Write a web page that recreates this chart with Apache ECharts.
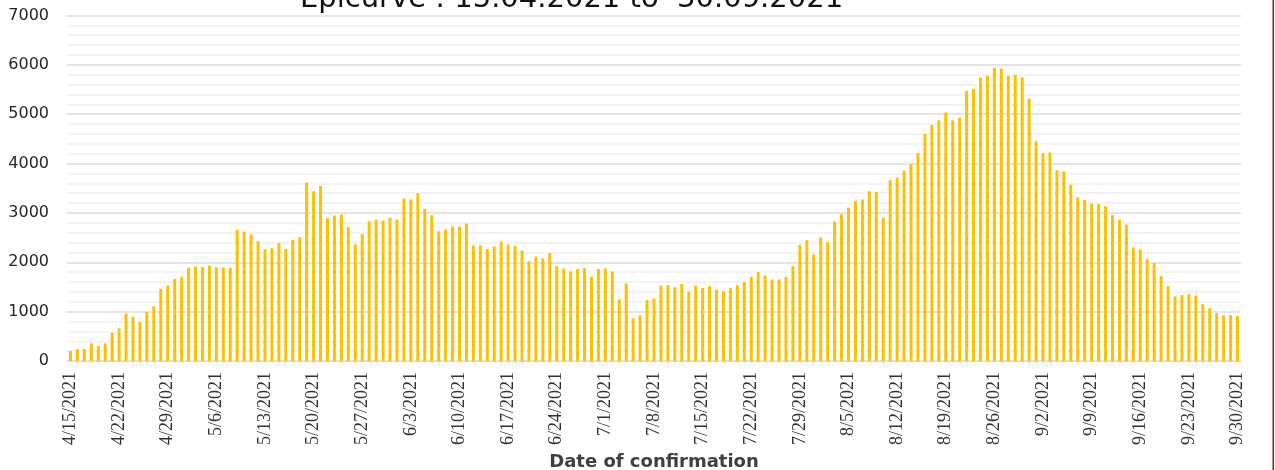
<!DOCTYPE html>
<html>
<head>
<meta charset="utf-8">
<title>Epicurve</title>
<script src="https://cdn.jsdelivr.net/npm/echarts@6/dist/echarts.min.js"></script>
<style>
    html,body{margin:0;padding:0;background:#fff;}
    #chart{width:1275px;height:470px;}
</style>
</head>
<body>
<div id="chart"></div>
<script>
// daily confirmed cases, 15.04.2021 .. 30.09.2021
var startDate = "2021-04-15";
var endDate = "2021-09-30";
var cases = [
    200, 236, 243, 357, 303, 357, 573, 661, 964, 897, 789, 991, 1106, 1463, 1530, 1659,
    1706, 1888, 1915, 1902, 1929, 1895, 1895, 1888, 2656, 2623, 2562, 2428, 2266, 2286, 2387, 2273,
    2455, 2509, 3615, 3439, 3547, 2893, 2947, 2967, 2711, 2360, 2569, 2832, 2866, 2846, 2906,
    2866, 3291, 3271, 3399, 3082, 2954, 2630, 2664, 2724, 2724, 2785, 2340, 2347, 2266, 2320,
    2421, 2360, 2333, 2239, 2023, 2118, 2077, 2185, 1922, 1875, 1814, 1861, 1882, 1706, 1861,
    1875, 1814, 1248, 1572, 863, 924, 1234, 1268, 1530, 1537, 1497, 1558, 1402, 1530, 1477, 1517,
    1443, 1416, 1477, 1537, 1598, 1706, 1801, 1733, 1652, 1652, 1706, 1922, 2353, 2448, 2158,
    2502, 2407, 2826, 2974, 3109, 3243, 3271, 3439, 3425, 2906, 3662, 3716, 3858, 3990, 4212, 4599,
    4781, 4876, 5037, 4876, 4930, 5476, 5516, 5745, 5779, 5940, 5927, 5779, 5799, 5745, 5314,
    4451, 4215, 4225, 3868, 3840, 3572, 3314, 3264, 3189, 3183, 3136, 2954, 2866, 2765, 2300,
    2259, 2063, 1983, 1720, 1517, 1308, 1335, 1355, 1321, 1153, 1072, 971, 924, 930, 910
];
var yTicks = [0, 1000, 2000, 3000, 4000, 5000, 6000, 7000];
var titleText = "Epicurve : 15.04.2021 to  30.09.2021";
var xName = "Date of confirmation";

// m/d/yyyy labels, one per day
var days = [];
var d = new Date(startDate + "T00:00:00Z");
var dEnd = new Date(endDate + "T00:00:00Z");
while (d <= dEnd) {
    days.push((d.getUTCMonth() + 1) + "/" + d.getUTCDate() + "/" + d.getUTCFullYear());
    d.setUTCDate(d.getUTCDate() + 1);
}

var oChart = echarts.init(document.getElementById("chart"));
var option = {
    animation: false,
    title: {
        text: titleText,
        left: 300,
        top: -15,
        padding: 0,
        textStyle: {
            fontFamily: "DejaVu Sans",
            fontSize: 29,
            fontWeight: "normal",
            color: "#111"
        }
    },
    grid: {
        left: 67,
        right: 34,
        top: 15.5,
        bottom: 109,
        outerBoundsMode: "none",
        containLabel: false
    },
    xAxis: {
        type: "category",
        data: days,
        name: xName,
        nameLocation: "middle",
        nameGap: 86,
        nameTextStyle: {
            fontFamily: "DejaVu Sans",
            fontSize: 18,
            fontWeight: "bold",
            color: "#404040"
        },
        axisLine: {
            lineStyle: {color: "#d9d9d9"}
        },
        axisTick: {show: false},
        axisLabel: {
            interval: 6,
            rotate: 90,
            margin: 11,
            fontFamily: "Liberation Sans Narrow",
            fontSize: 18,
            color: "#333"
        }
    },
    yAxis: {
        type: "value",
        min: yTicks[0],
        max: yTicks[yTicks.length - 1],
        interval: yTicks[1] - yTicks[0],
        axisLine: {show: false},
        axisTick: {show: false},
        axisLabel: {
            margin: 18,
            fontFamily: "DejaVu Sans",
            fontSize: 16,
            color: "#262626",
            formatter: function (v) { return String(v); }
        },
        splitLine: {
            lineStyle: {color: "#dcdcdc", width: 1.5}
        },
        minorTick: {show: false, splitNumber: 5},
        minorSplitLine: {
            show: true,
            lineStyle: {color: "#f0f0f0", width: 1.5}
        }
    },
    graphic: [{
        type: "rect",
        shape: {x: 1272.5, y: 0, width: 1.5, height: 470},
        style: {fill: "#8b1a1a"}
    }],
    series: [{
        type: "bar",
        data: cases,
        barWidth: 3,
        itemStyle: {color: "#ffc000"}
    }]
};
oChart.setOption(option);
</script>
</body>
</html>
